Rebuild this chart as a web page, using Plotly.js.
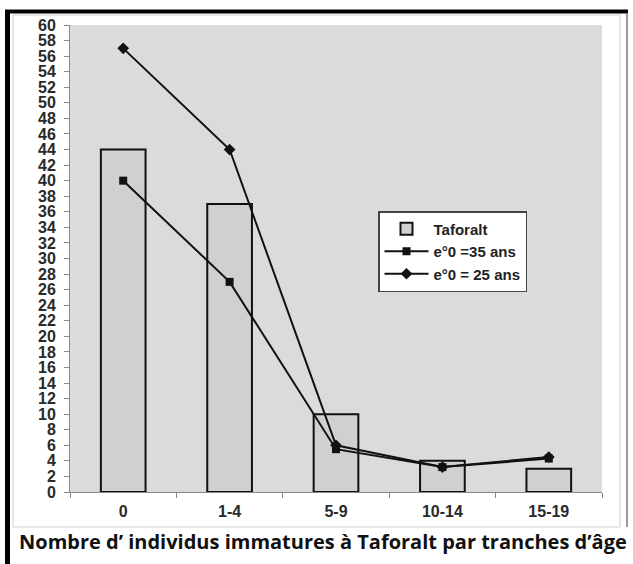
<!DOCTYPE html>
<html>
<head>
<meta charset="utf-8">
<script src="https://cdn.plot.ly/plotly-3.0.1.min.js"></script>
<style>
html,body{margin:0;padding:0;background:#fff;}
#chart{width:633px;height:564px;}
</style>
</head>
<body>
<div id="chart"></div>
<script>
const categories = ["0", "1-4", "5-9", "10-14", "15-19"];
const taforalt = [44, 37, 10, 4, 3];
const e35 = [40, 27, 5.5, 3.2, 4.3];
const e25 = [57, 44, 6, 3.2, 4.5];
const yTickVals = [0,2,4,6,8,10,12,14,16,18,20,22,24,26,28,30,32,34,36,38,40,42,44,46,48,50,52,54,56,58,60];

const L = 70, T = 25, W = 532, H = 467;
function px(x){ return (x - L) / W; }
function py(y){ return (T + H - y) / H; }

const traces = [
  {
    type: "bar", x: categories, y: taforalt, name: "Taforalt",
    width: 0.42,
    marker: {color: "#d0d0d0", line: {color: "#111", width: 2}}
  },
  {
    type: "scatter", mode: "lines+markers", x: categories, y: e35, name: "e°0 =35 ans",
    line: {color: "#111", width: 2},
    marker: {symbol: "square", size: 8, color: "#111"}
  },
  {
    type: "scatter", mode: "lines+markers", x: categories, y: e25, name: "e°0 = 25 ans",
    line: {color: "#111", width: 2},
    marker: {symbol: "diamond", size: 9, color: "#111"}
  }
];

const layout = {
  width: 633, height: 564,
  margin: {l: L, r: 633 - L - W, t: T, b: 564 - T - H},
  paper_bgcolor: "#ffffff",
  plot_bgcolor: "#dbdbdb",
  font: {family: "Liberation Sans, Arial, sans-serif", color: "#333"},
  showlegend: true,
  legend: {
    x: px(378), y: py(211), xanchor: "left", yanchor: "top",
    bgcolor: "#ffffff", bordercolor: "#444", borderwidth: 1.5,
    font: {size: 15, color: "#222", family: "Liberation Sans, Arial, sans-serif", weight: "bold"},
    tracegroupgap: 0, itemwidth: 44
  },
  xaxis: {
    type: "category",
    showgrid: false, zeroline: false,
    showline: true, linecolor: "#888", linewidth: 1,
    ticks: "outside", ticklen: 5, tickcolor: "#888", tickson: "boundaries",
    tickfont: {size: 16, color: "#2a2a2a", weight: "bold"},
    ticklabelstandoff: 5,
    range: [-0.5, 4.5]
  },
  yaxis: {
    range: [0, 60], tickvals: yTickVals,
    showgrid: false, zeroline: false,
    showline: true, linecolor: "#888", linewidth: 1,
    ticks: "outside", ticklen: 5, tickcolor: "#888",
    tickfont: {size: 16, color: "#2a2a2a", weight: "bold"},
    ticklabelstandoff: 5
  },
  shapes: [
    {type: "rect", xref: "paper", yref: "paper", x0: px(13), x1: px(620), y0: py(527), y1: py(15),
     line: {color: "#cfcfcf", width: 1}, fillcolor: "rgba(0,0,0,0)", layer: "below"},
    {type: "line", xref: "paper", yref: "paper", x0: px(5), x1: px(628), y0: py(11.5), y1: py(11.5),
     line: {color: "#000", width: 4}},
    {type: "line", xref: "paper", yref: "paper", x0: px(7.5), x1: px(7.5), y0: py(564), y1: py(10),
     line: {color: "#000", width: 5}},
    {type: "line", xref: "paper", yref: "paper", x0: px(627), x1: px(627), y0: py(527), y1: py(13),
     line: {color: "#777", width: 1.5}}
  ],
  annotations: [
    {xref: "paper", yref: "paper", x: px(323), y: py(541), xanchor: "center", yanchor: "middle",
     text: "Nombre d’ individus immatures à Taforalt par tranches d’âge", showarrow: false,
     font: {family: "Open Sans, sans-serif", size: 20, color: "#111", weight: "bold"}}
  ]
};

Plotly.newPlot("chart", traces, layout, {displayModeBar: false, staticPlot: true});
</script>
</body>
</html>
